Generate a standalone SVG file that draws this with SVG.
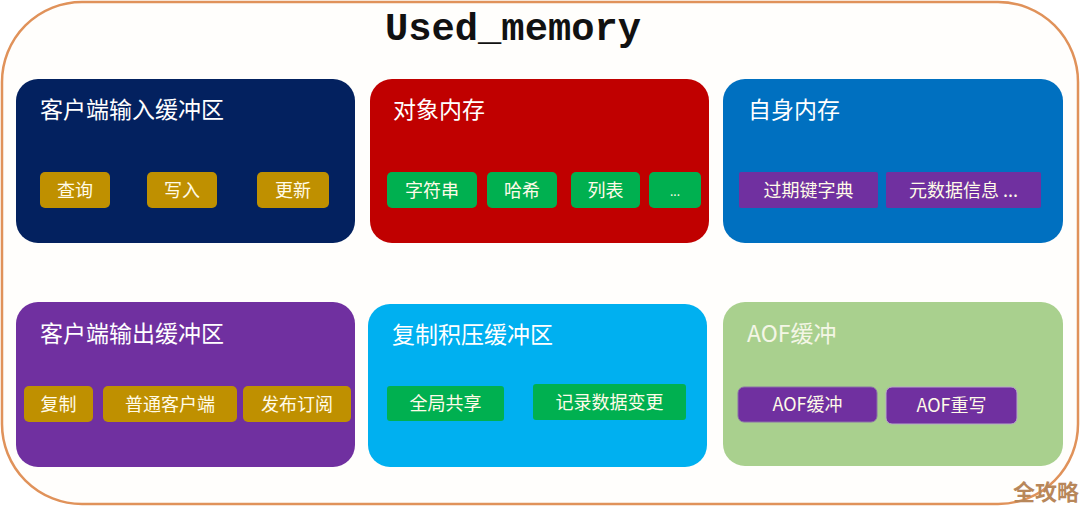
<svg xmlns="http://www.w3.org/2000/svg" width="1080" height="507" viewBox="0 0 1080 507">
<style>
.box{stroke:none}
.hdr{font-family:"Noto Sans CJK SC","Liberation Sans",sans-serif;font-size:23px;fill:#ffffff}
.chip{font-family:"Noto Sans CJK SC","Liberation Sans",sans-serif;font-size:18px;fill:#fffbe8;text-anchor:middle}
.gold{fill:#BF9000}
.green{fill:#00B050}
.purple{fill:#7030A0}
</style>
<rect width="1080" height="507" fill="#ffffff"/>
<rect id="frame" x="2" y="2" width="1076" height="502" rx="80" ry="80" fill="#fffefc" stroke="#E0925A" stroke-width="2.5"/>
<text x="513" y="40" text-anchor="middle" font-family="'Liberation Mono','Courier New',monospace" font-weight="bold" font-size="38" fill="#111111" textLength="256" lengthAdjust="spacingAndGlyphs">Used_memory</text>

<g id="input-buffer">
<rect class="box" x="16" y="79" width="339" height="164" rx="22" fill="#03215F"/>
<text class="hdr" x="40" y="118">客户端输入缓冲区</text>
<rect class="gold" x="40" y="172" width="70" height="36" rx="5"/>
<text class="chip" x="75" y="196.5">查询</text>
<rect class="gold" x="147" y="172" width="70" height="36" rx="5"/>
<text class="chip" x="182" y="196.5">写入</text>
<rect class="gold" x="257" y="172" width="72" height="36" rx="5"/>
<text class="chip" x="293" y="196.5">更新</text>
</g>

<g id="object-memory">
<rect class="box" x="370" y="79" width="339" height="164" rx="22" fill="#C00000"/>
<text class="hdr" x="393" y="118">对象内存</text>
<rect class="green" x="387" y="172" width="90" height="36" rx="5"/>
<text class="chip" x="432" y="196.5">字符串</text>
<rect class="green" x="487" y="172" width="70" height="36" rx="5"/>
<text class="chip" x="522" y="196.5">哈希</text>
<rect class="green" x="571" y="172" width="69" height="36" rx="5"/>
<text class="chip" x="605.5" y="196.5">列表</text>
<rect class="green" x="649" y="172" width="52" height="36" rx="5"/>
<text class="chip" x="675" y="196" font-size="12" style="font-size:12px">...</text>
</g>

<g id="self-memory">
<rect class="box" x="723" y="79" width="340" height="164" rx="22" fill="#0070C0"/>
<text class="hdr" x="748" y="118">自身内存</text>
<rect class="purple" x="739" y="172" width="139" height="36" rx="2"/>
<text class="chip" x="808.5" y="196.5">过期键字典</text>
<rect class="purple" x="886" y="172" width="155" height="36" rx="2"/>
<text class="chip" x="963.5" y="196.5">元数据信息 ...</text>
</g>

<g id="output-buffer">
<rect class="box" x="16" y="302" width="339" height="165" rx="22" fill="#7030A0"/>
<text class="hdr" x="40" y="342">客户端输出缓冲区</text>
<rect class="gold" x="24" y="386" width="69" height="36" rx="5"/>
<text class="chip" x="58.5" y="410.5">复制</text>
<rect class="gold" x="103" y="386" width="134" height="36" rx="5"/>
<text class="chip" x="170" y="410.5">普通客户端</text>
<rect class="gold" x="243" y="386" width="108" height="36" rx="5"/>
<text class="chip" x="297" y="410.5">发布订阅</text>
</g>

<g id="repl-backlog">
<rect class="box" x="368" y="304" width="339" height="163" rx="22" fill="#00B0F0"/>
<text class="hdr" x="392" y="343">复制积压缓冲区</text>
<rect class="green" x="387" y="386" width="117" height="35" rx="3"/>
<text class="chip" x="445.5" y="410">全局共享</text>
<rect class="green" x="533" y="384" width="153" height="36" rx="3"/>
<text class="chip" x="609.5" y="408.5">记录数据变更</text>
</g>

<g id="aof-buffer">
<rect class="box" x="723" y="302" width="340" height="164" rx="22" fill="#A9D08E"/>
<text class="hdr" x="747" y="342" style="fill:#f4f6e6">AOF缓冲</text>
<rect class="purple" x="738" y="387" width="139" height="35" rx="6" stroke="#8a70a8" stroke-width="1"/>
<text class="chip" x="807.5" y="411">AOF缓冲</text>
<rect class="purple" x="886" y="387" width="131" height="37" rx="6" stroke="#b8a8c8" stroke-width="1"/>
<text class="chip" x="951.5" y="412">AOF重写</text>
</g>

<g id="connectors"></g>

<text x="1046" y="500" text-anchor="middle" font-family="'Noto Sans CJK SC',sans-serif" font-weight="bold" font-size="22" fill="#B8875A">全攻略</text>
</svg>
